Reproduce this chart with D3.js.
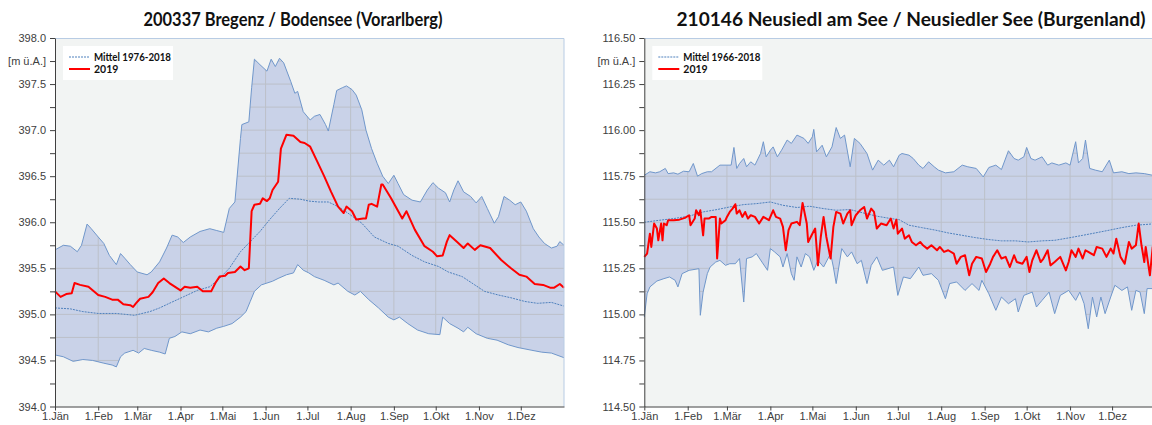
<!DOCTYPE html>
<html lang="de">
<head>
<meta charset="UTF-8">
<title>Wasserstand Bregenz / Neusiedl</title>
<style>
  body { margin: 0; background: #fff; }
  svg { display: block; font-family: Lato, "Open Sans", sans-serif; }
  .tick text { fill: #404040; font-size: 11px; }
  .domain, .tick line { stroke: #404040; }
  .title { font-size: 18px; font-weight: bold; fill: #111; }
  .legend text { font-size: 10.5px; font-weight: bold; fill: #111; }
</style>
</head>
<body>
<svg width="1152" height="425"></svg>
<script src="https://d3js.org/d3.v7.min.js"></script>
<script>
  // x: day of year (2019, not a leap year)
  const monthStarts = [0, 31, 59, 90, 120, 151, 181, 212, 243, 273, 304, 334];
  const monthLabels = ["1.Jän", "1.Feb", "1.Mär", "1.Apr", "1.Mai", "1.Jun", "1.Jul", "1.Aug", "1.Sep", "1.Okt", "1.Nov", "1.Dez"];

  // 200337 Bregenz / Bodensee  [day, m ü.A.]
  const bregenzMax = [[0,395.70],[6,395.75],[11,395.74],[16,395.68],[19,395.75],[23,395.98],[26,395.93],[31,395.84],[35,395.77],[39,395.64],[44,395.54],[47,395.66],[50,395.61],[54,395.54],[59,395.46],[66,395.43],[69,395.46],[75,395.57],[80,395.72],[84,395.86],[88,395.84],[92,395.78],[97,395.84],[104,395.90],[111,395.93],[116,395.91],[121,395.89],[125,396.15],[129,396.22],[133,396.91],[134,397.06],[139,397.09],[141,397.46],[143,397.77],[147,397.71],[152,397.64],[155,397.77],[158,397.69],[161,397.78],[164,397.73],[169,397.53],[172,397.40],[174,397.42],[178,397.20],[183,397.11],[186,397.15],[190,397.17],[194,397.06],[196,396.99],[200,397.28],[202,397.43],[206,397.46],[209,397.48],[213,397.44],[216,397.38],[220,397.22],[223,397.00],[227,396.80],[231,396.64],[235,396.50],[239,396.42],[243,396.51],[246,396.42],[250,396.30],[256,396.24],[262,396.22],[267,396.35],[271,396.43],[275,396.37],[280,396.32],[283,396.22],[286,396.35],[289,396.45],[293,396.33],[298,396.28],[302,396.21],[306,396.28],[310,396.15],[315,395.99],[318,396.06],[322,396.28],[326,396.24],[330,396.19],[334,396.22],[338,396.12],[343,395.93],[347,395.84],[351,395.77],[356,395.72],[360,395.74],[362,395.79],[365,395.75]];
  const bregenzMin = [[0,394.56],[6,394.54],[13,394.49],[20,394.51],[27,394.50],[35,394.47],[41,394.45],[44,394.43],[47,394.54],[50,394.58],[56,394.61],[60,394.58],[64,394.63],[69,394.61],[75,394.59],[79,394.57],[82,394.74],[86,394.76],[91,394.81],[97,394.79],[104,394.83],[110,394.81],[116,394.85],[121,394.87],[127,394.90],[133,394.97],[137,395.03],[140,395.14],[143,395.25],[148,395.32],[152,395.34],[156,395.36],[160,395.39],[166,395.43],[171,395.45],[174,395.54],[178,395.48],[182,395.45],[186,395.41],[193,395.37],[200,395.32],[203,395.34],[210,395.25],[215,395.21],[219,395.25],[225,395.16],[232,395.07],[239,394.97],[243,394.94],[247,394.97],[253,394.90],[260,394.83],[268,394.79],[276,394.78],[278,394.97],[283,394.90],[289,394.85],[293,394.81],[296,394.86],[302,394.79],[310,394.74],[317,394.72],[325,394.67],[332,394.64],[342,394.61],[349,394.59],[356,394.58],[365,394.53]];
  const bregenzMean = [[0,395.07],[11,395.06],[20,395.03],[31,395.01],[44,395.01],[57,394.99],[68,395.03],[75,395.07],[82,395.12],[92,395.19],[102,395.26],[111,395.30],[118,395.39],[125,395.50],[133,395.68],[140,395.79],[147,395.90],[154,396.03],[161,396.15],[168,396.26],[176,396.25],[182,396.23],[189,396.22],[196,396.22],[203,396.17],[210,396.10],[220,395.99],[229,395.84],[239,395.77],[246,395.74],[256,395.64],[265,395.57],[275,395.52],[282,395.46],[292,395.41],[301,395.32],[308,395.25],[318,395.21],[327,395.18],[337,395.14],[346,395.12],[356,395.13],[365,395.09]];
  const bregenz2019 = [[0,395.25],[4,395.19],[8,395.22],[12,395.23],[14,395.34],[18,395.32],[24,395.30],[31,395.21],[36,395.19],[41,395.16],[45,395.16],[49,395.11],[54,395.10],[56,395.08],[58,395.12],[61,395.17],[67,395.19],[70,395.24],[74,395.34],[78,395.39],[82,395.34],[90,395.26],[93,395.30],[97,395.29],[102,395.30],[106,395.25],[112,395.25],[115,395.34],[118,395.41],[122,395.42],[124,395.45],[129,395.46],[133,395.52],[136,395.48],[139,395.50],[141,396.12],[143,396.19],[147,396.20],[149,396.26],[152,396.23],[154,396.26],[156,396.35],[160,396.44],[162,396.80],[166,396.95],[171,396.94],[176,396.87],[179,396.86],[183,396.82],[188,396.66],[193,396.50],[198,396.33],[203,396.17],[207,396.10],[209,396.17],[213,396.12],[216,396.03],[221,396.04],[223,396.04],[225,396.19],[227,396.20],[231,396.17],[234,396.41],[235,396.41],[241,396.26],[249,396.04],[252,396.12],[258,395.92],[265,395.74],[271,395.68],[274,395.63],[278,395.64],[281,395.79],[283,395.86],[288,395.79],[293,395.72],[296,395.77],[301,395.70],[305,395.75],[312,395.72],[320,395.59],[327,395.50],[333,395.43],[338,395.41],[344,395.33],[350,395.32],[355,395.29],[358,395.29],[362,395.33],[365,395.29]];

  // 210146 Neusiedl am See / Neusiedler See  [day, m ü.A.]
  const neusiedlMax = [[0,115.755],[4,115.774],[8,115.768],[11,115.774],[15,115.792],[17,115.764],[21,115.768],[24,115.761],[28,115.777],[32,115.774],[35,115.819],[38,115.750],[41,115.764],[45,115.774],[48,115.774],[54,115.810],[59,115.810],[62,115.810],[64,115.906],[66,115.792],[68,115.819],[71,115.846],[73,115.801],[76,115.828],[79,115.810],[83,115.873],[85,115.937],[87,115.855],[90,115.891],[92,115.909],[95,115.855],[98,115.891],[102,115.946],[105,115.928],[109,115.973],[114,115.955],[117,115.928],[120,115.964],[121,116.004],[123,115.882],[127,115.918],[130,115.855],[134,115.909],[137,116.014],[140,115.955],[143,115.973],[147,115.801],[150,115.955],[154,115.928],[159,115.873],[163,115.783],[167,115.837],[171,115.810],[175,115.837],[178,115.801],[182,115.864],[184,115.873],[189,115.864],[192,115.846],[196,115.810],[199,115.792],[203,115.828],[207,115.801],[210,115.783],[215,115.768],[221,115.774],[227,115.810],[231,115.801],[237,115.792],[242,115.746],[246,115.797],[251,115.810],[255,115.786],[260,115.888],[264,115.846],[267,115.837],[271,115.855],[273,115.906],[276,115.846],[279,115.837],[284,115.855],[288,115.810],[291,115.822],[296,115.810],[301,115.822],[304,115.810],[308,115.937],[310,115.822],[313,115.846],[315,115.946],[318,115.792],[322,115.783],[327,115.774],[332,115.837],[335,115.768],[341,115.774],[346,115.764],[351,115.768],[357,115.764],[363,115.755],[365,115.755]];
  const neusiedlMin = [[0,114.986],[2,115.112],[4,115.149],[9,115.181],[14,115.194],[18,115.203],[22,115.185],[24,115.149],[27,115.221],[32,115.239],[39,115.248],[40,114.995],[42,115.121],[45,115.221],[47,115.257],[51,115.284],[54,115.293],[58,115.266],[61,115.275],[65,115.275],[68,115.303],[71,115.067],[73,115.303],[77,115.312],[80,115.330],[84,115.284],[88,115.239],[90,115.357],[93,115.339],[97,115.312],[99,115.257],[102,115.330],[105,115.221],[107,115.185],[109,115.312],[112,115.257],[115,115.330],[118,115.312],[121,115.239],[124,115.293],[128,115.257],[133,115.330],[135,115.257],[137,115.167],[141,115.357],[145,115.312],[148,115.339],[152,115.275],[155,115.293],[159,115.167],[162,115.266],[166,115.312],[170,115.239],[174,115.248],[178,115.257],[181,115.103],[185,115.203],[190,115.194],[196,115.257],[199,115.212],[205,115.221],[210,115.185],[215,115.085],[218,115.167],[223,115.176],[229,115.130],[234,115.167],[239,115.130],[241,115.185],[246,115.112],[251,115.022],[255,115.094],[260,115.058],[265,115.085],[267,115.013],[271,115.103],[277,115.121],[280,115.040],[284,115.076],[289,115.121],[293,115.004],[297,115.103],[303,115.130],[308,115.076],[311,115.121],[314,115.058],[317,114.922],[320,115.094],[323,114.986],[326,115.094],[329,115.004],[333,115.094],[336,115.158],[341,115.130],[345,115.149],[348,115.022],[351,115.130],[354,115.121],[357,115.004],[359,115.140],[363,115.140],[365,115.140]];
  const neusiedlMean = [[0,115.500],[11,115.511],[21,115.520],[32,115.533],[42,115.556],[52,115.569],[61,115.583],[71,115.596],[80,115.601],[90,115.610],[99,115.592],[109,115.580],[118,115.587],[128,115.574],[137,115.565],[147,115.569],[156,115.551],[166,115.533],[176,115.520],[182,115.514],[189,115.484],[198,115.471],[208,115.457],[217,115.442],[227,115.429],[236,115.417],[246,115.406],[255,115.399],[265,115.399],[274,115.393],[284,115.399],[293,115.402],[303,115.415],[313,115.429],[322,115.442],[332,115.457],[341,115.471],[351,115.484],[360,115.489],[365,115.493]];
  const neusiedl2019 = [[0,115.312],[2,115.330],[4,115.438],[5,115.366],[7,115.493],[9,115.466],[10,115.402],[12,115.493],[13,115.402],[14,115.493],[16,115.484],[17,115.511],[21,115.511],[25,115.514],[29,115.524],[32,115.538],[33,115.484],[36,115.520],[37,115.565],[39,115.538],[40,115.565],[42,115.429],[43,115.520],[46,115.520],[48,115.529],[51,115.529],[52,115.303],[54,115.520],[55,115.493],[58,115.511],[59,115.529],[61,115.556],[63,115.574],[65,115.598],[66,115.547],[68,115.565],[70,115.529],[72,115.556],[74,115.520],[76,115.538],[79,115.529],[82,115.493],[85,115.529],[89,115.511],[92,115.565],[94,115.529],[97,115.520],[99,115.475],[101,115.348],[103,115.457],[105,115.493],[109,115.502],[111,115.484],[113,115.605],[116,115.493],[117,115.393],[120,115.438],[122,115.466],[124,115.266],[126,115.420],[128,115.529],[130,115.420],[133,115.303],[135,115.475],[137,115.556],[140,115.547],[142,115.493],[145,115.547],[147,115.565],[148,115.484],[151,115.538],[154,115.565],[157,115.583],[159,115.520],[162,115.574],[164,115.556],[166,115.466],[169,115.493],[173,115.484],[176,115.520],[178,115.466],[180,115.514],[181,115.438],[184,115.466],[186,115.411],[189,115.429],[191,115.393],[194,115.375],[197,115.393],[199,115.375],[202,115.357],[205,115.375],[209,115.348],[211,115.366],[214,115.339],[217,115.348],[221,115.330],[223,115.275],[226,115.312],[229,115.321],[232,115.212],[234,115.275],[237,115.312],[241,115.303],[244,115.230],[247,115.275],[249,115.312],[252,115.348],[255,115.303],[258,115.312],[261,115.257],[264,115.321],[266,115.284],[270,115.275],[273,115.312],[275,115.230],[277,115.293],[280,115.348],[283,115.284],[285,115.303],[288,115.348],[290,115.266],[293,115.284],[297,115.312],[301,115.239],[303,115.284],[305,115.348],[308,115.312],[310,115.357],[313,115.303],[315,115.348],[317,115.339],[321,115.321],[323,115.366],[327,115.357],[330,115.312],[333,115.357],[335,115.330],[337,115.411],[340,115.312],[343,115.275],[346,115.393],[348,115.357],[351,115.375],[353,115.493],[355,115.375],[357,115.284],[358,115.366],[361,115.212],[363,115.366],[365,115.330]];

  const svg = d3.select("svg");

  function drawPanel(cfg, idx) {
    const g = svg.append("g");
    const x = d3.scaleLinear().domain([0, 365]).range([cfg.left, cfg.right]);
    const y = d3.scaleLinear().domain(cfg.yDomain).range([cfg.bottom, cfg.top]);
    const line = d3.line().x(d => x(d[0])).y(d => y(d[1]));

    // plot background
    g.append("rect")
      .attr("x", cfg.left).attr("y", cfg.top)
      .attr("width", cfg.right - cfg.left).attr("height", cfg.bottom - cfg.top)
      .attr("fill", "#f2f4f3");

    // min/max band as one closed polygon
    const bandPts = cfg.max.concat(cfg.min.slice().reverse());
    const bandD = line(bandPts) + "Z";

    g.append("clipPath").attr("id", "band" + idx)
      .append("path").attr("d", bandD);

    g.append("path")
      .attr("d", bandD)
      .attr("fill", "#c9d2e8")
      .attr("stroke", "none");

    // grid only shows inside the band
    const yTicks = d3.range(0, 17).map(i => cfg.yDomain[0] + i * cfg.step);
    const grid = g.append("g").attr("clip-path", `url(#band${idx})`)
      .attr("stroke", "#bcc0c9").attr("stroke-width", 1);
    grid.selectAll(".h").data(yTicks).enter().append("line")
      .attr("x1", cfg.left).attr("x2", cfg.right)
      .attr("y1", d => y(d)).attr("y2", d => y(d));
    grid.selectAll(".v").data(monthStarts.slice(1)).enter().append("line")
      .attr("x1", d => x(d)).attr("x2", d => x(d))
      .attr("y1", cfg.top).attr("y2", cfg.bottom);

    // band outlines
    [cfg.max, cfg.min].forEach(s => {
      g.append("path").attr("d", line(s))
        .attr("fill", "none").attr("stroke", "#7097cb").attr("stroke-width", 1);
    });

    // mean
    g.append("path").attr("d", line(cfg.mean))
      .attr("fill", "none").attr("stroke", "#4f81bd")
      .attr("stroke-width", 1).attr("stroke-dasharray", "2,1");

    // 2019
    g.append("path").attr("d", line(cfg.current))
      .attr("fill", "none").attr("stroke", "#ff0000")
      .attr("stroke-width", 2).attr("stroke-linejoin", "round");

    // plot frame (top + right)
    g.append("path")
      .attr("d", `M${cfg.left},${cfg.top + 0.5}H${cfg.right}V${cfg.bottom}`)
      .attr("fill", "none").attr("stroke", "#b8cce4");

    // axes
    const fmt = d3.format(cfg.fmt);
    const yAxis = d3.axisLeft(y).tickValues(yTicks).tickSize(5).tickSizeOuter(0).tickPadding(4)
      .tickFormat((d, i) => {
        if (i === 15) return "[m ü.A.]";
        return i % 2 === 0 ? fmt(d) : "";
      });
    g.append("g").attr("transform", `translate(${cfg.left},0)`).call(yAxis);

    const xAxis = d3.axisBottom(x).tickValues(monthStarts).tickSize(4).tickSizeOuter(0).tickPadding(2)
      .tickFormat((d, i) => monthLabels[i]);
    g.append("g").attr("transform", `translate(0,${cfg.bottom})`).call(xAxis);

    // title
    g.append("text").attr("class", "title")
      .attr("x", cfg.titleX).attr("y", 26)
      .attr("text-anchor", "middle")
      .attr("textLength", cfg.titleW).attr("lengthAdjust", "spacingAndGlyphs")
      .text(cfg.title);

    // legend
    const lg = g.append("g").attr("class", "legend")
      .attr("transform", `translate(${cfg.left + 8},${cfg.top + 8})`);
    lg.append("rect").attr("width", 110).attr("height", 34).attr("fill", "#fff");
    lg.append("line").attr("x1", 6).attr("x2", 27).attr("y1", 11).attr("y2", 11)
      .attr("stroke", "#4f81bd").attr("stroke-dasharray", "2,1");
    lg.append("line").attr("x1", 6).attr("x2", 27).attr("y1", 23).attr("y2", 23)
      .attr("stroke", "#ff0000").attr("stroke-width", 2);
    lg.append("text").attr("x", 31).attr("y", 15)
      .attr("textLength", 77).attr("lengthAdjust", "spacingAndGlyphs")
      .text(cfg.meanLabel);
    lg.append("text").attr("x", 31).attr("y", 27).text("2019");
  }

  drawPanel({
    left: 55, right: 564, top: 38, bottom: 406.5,
    yDomain: [394, 398], step: 0.25, fmt: ".1f",
    title: "200337 Bregenz / Bodensee (Vorarlberg)", titleX: 293, titleW: 299,
    meanLabel: "Mittel 1976-2018",
    max: bregenzMax, min: bregenzMin, mean: bregenzMean, current: bregenz2019
  }, 0);

  drawPanel({
    left: 644.3, right: 1155.5, top: 38, bottom: 406.5,
    yDomain: [114.5, 116.5], step: 0.125, fmt: ".2f",
    title: "210146 Neusiedl am See / Neusiedler See (Burgenland)", titleX: 911, titleW: 469,
    meanLabel: "Mittel 1966-2018",
    max: neusiedlMax, min: neusiedlMin, mean: neusiedlMean, current: neusiedl2019
  }, 1);
</script>
</body>
</html>
